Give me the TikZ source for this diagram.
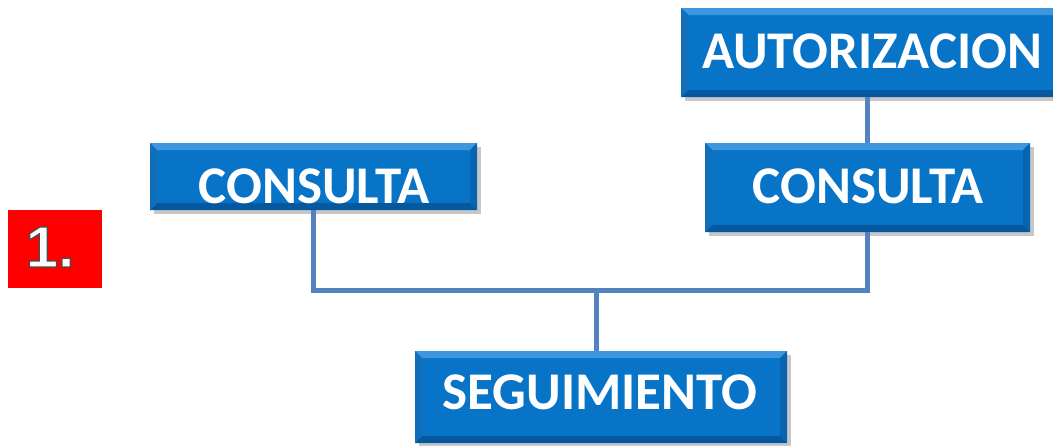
\documentclass[tikz,border=0pt]{standalone}
\usepackage{fontspec}
\setmainfont{Carlito}
\newfontfamily\numfont{Liberation Sans}
\definecolor{boxblue}{RGB}{8,116,200}
\definecolor{boxlight}{RGB}{62,150,222}
\definecolor{boxdark}{RGB}{5,88,158}
\definecolor{boxside}{RGB}{6,100,176}
\definecolor{linkblue}{RGB}{84,130,190}
\definecolor{numred}{RGB}{255,0,0}
\tikzset{
  bluebox/.style={fill=boxblue, draw=none, inner sep=0pt,
    path picture={
      \fill[boxlight] (path picture bounding box.north west) -- (path picture bounding box.north east)
        -- ([xshift=-7pt,yshift=-7pt]path picture bounding box.north east) -- ([xshift=7pt,yshift=-7pt]path picture bounding box.north west) -- cycle;
      \fill[boxdark] (path picture bounding box.south west) -- (path picture bounding box.south east)
        -- ([xshift=-7pt,yshift=7pt]path picture bounding box.south east) -- ([xshift=7pt,yshift=7pt]path picture bounding box.south west) -- cycle;
      \fill[boxside] (path picture bounding box.south east) -- (path picture bounding box.north east)
        -- ([xshift=-7pt,yshift=-7pt]path picture bounding box.north east) -- ([xshift=-7pt,yshift=7pt]path picture bounding box.south east) -- cycle;
      \fill[boxside!80!boxlight] (path picture bounding box.south west) -- (path picture bounding box.north west)
        -- ([xshift=7pt,yshift=-7pt]path picture bounding box.north west) -- ([xshift=7pt,yshift=7pt]path picture bounding box.south west) -- cycle;
    }},
  shadowbox/.style={fill=black, opacity=0.22, draw=none, inner sep=0pt},
  boxtext/.style={text=white, font=\bfseries\fontsize{53}{53}\selectfont, inner sep=0pt},
  link/.style={draw=linkblue, line width=5pt}
}
\begin{document}
\begin{tikzpicture}[x=1pt,y=-1pt]
\useasboundingbox (0,0) rectangle (1053,445);
% connectors
\coordinate (jl) at (313.5,290);
\coordinate (jr) at (867.5,290);
\coordinate (jm) at (596,290);
% shadows
\node[shadowbox, minimum width=379pt, minimum height=89pt] (autorsh) at (874.5,56.5) {};
\node[shadowbox, minimum width=325pt, minimum height=89pt] (cons2sh) at (871.5,191.5) {};
\node[shadowbox, minimum width=327pt, minimum height=67pt] (cons1sh) at (317.5,180.5) {};
\node[shadowbox, minimum width=372pt, minimum height=92pt] (segsh) at (605,401) {};
% boxes
\node[bluebox, minimum width=379pt, minimum height=89pt] (autor) at (870.5,52.5) {};
\node[bluebox, minimum width=325pt, minimum height=89pt] (cons2) at (867.5,187.5) {};
\node[bluebox, minimum width=327pt, minimum height=67pt] (cons1) at (313.5,176.5) {};
\node[bluebox, minimum width=372pt, minimum height=92pt] (seg) at (601,397) {};
\draw[link] (cons2.north |- autor.south) -- (cons2.north);
\draw[link] (cons1.south) -- (jl) -- (jr) -- (cons2.south);
\draw[link] (jm) -- (jm |- seg.north);
% texts
\node[boxtext] (autort) at (872,51) {AUTORIZACION};
\node[boxtext] (cons2t) at (868,186) {CONSULTA};
\node[boxtext] (cons1t) at (314,186) {CONSULTA};
\node[boxtext] (segt) at (600,392) {SEGUIMIENTO};
% number box
\node[fill=numred, draw=none, minimum width=94pt, minimum height=78pt, inner sep=0pt] (num) at (55,249) {};
\node[text=white, font=\numfont\bfseries\fontsize{58}{58}\selectfont, inner sep=0pt] (numt) at (50,247)
  {\special{pdf:literal 0.3 G}\special{pdf:literal 2 Tr 1.2 w}1.\special{pdf:literal 0 Tr}};
\end{tikzpicture}
\end{document}
